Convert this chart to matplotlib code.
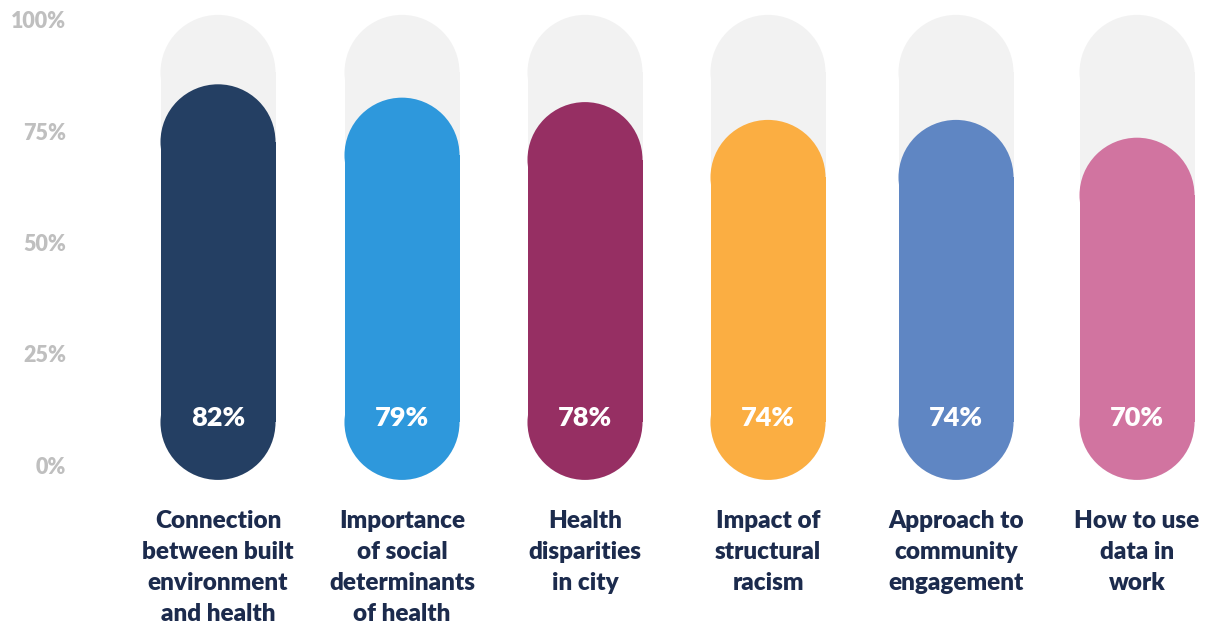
import matplotlib
matplotlib.use('Agg')
import matplotlib.pyplot as plt
from matplotlib.patches import Ellipse, Rectangle

# Datos
categorias = ['Connection\nbetween built\nenvironment\nand health',
              'Importance\nof social\ndeterminants\nof health',
              'Health\ndisparities\nin city',
              'Impact of\nstructural\nracism',
              'Approach to\ncommunity\nengagement',
              'How to use\ndata in\nwork']
valores = [82, 79, 78, 74, 74, 70]
colores = ['#243F63', '#2E98DC', '#962F63', '#FBAE42', '#5F86C3', '#D174A0']
ticks_y = [0, 25, 50, 75, 100]

plt.rcParams['font.family'] = ['Lato', 'DejaVu Sans']

W, H = 1207, 627
y0_px, y100_px = 467, 22
px_por_unidad = (y0_px - y100_px) / 100.0

fig = plt.figure(figsize=(W / 100, H / 100), dpi=100)
ax = fig.add_axes([0, 0, 1, 1])
ax.set_xlim(0, W)
ax.set_ylim(-(H - y0_px) / px_por_unidad, y0_px / px_por_unidad)
ax.axis('off')

centros = [218, 402, 585, 768, 956, 1137]
ancho = 115
alto_tapa = ancho / px_por_unidad
base = -2.9


def pastilla(x, y_bajo, y_alto, color, z):
    # rectangulo con dos semicirculos en los extremos
    r = alto_tapa / 2
    ax.add_patch(Rectangle((x - ancho / 2, y_bajo + r), ancho, y_alto - y_bajo - 2 * r,
                           facecolor=color, edgecolor='none', zorder=z))
    ax.add_patch(Ellipse((x, y_alto - r), ancho, alto_tapa, facecolor=color,
                         edgecolor='none', zorder=z))
    ax.add_patch(Ellipse((x, y_bajo + r), ancho, alto_tapa, facecolor=color,
                         edgecolor='none', zorder=z))


for x, v, c, cat in zip(centros, valores, colores, categorias):
    pastilla(x, base, 101.6, '#F2F2F2', 1)
    pastilla(x, base, v + 4, c, 2)
    ax.text(x, 11, f'{v}%', color='white', fontsize=19.5, fontweight='heavy',
            ha='center', va='center', zorder=3)
    ax.text(x, -9.6, cat, color='#1C2B4D', fontsize=17.5, fontweight='heavy',
            ha='center', va='top', linespacing=1.5)

for t in ticks_y:
    ax.text(66, t, f'{t}%', color='#BFBFBF', fontsize=15.5, fontweight='heavy',
            ha='right', va='center')

plt.savefig('out.png', dpi=100)
